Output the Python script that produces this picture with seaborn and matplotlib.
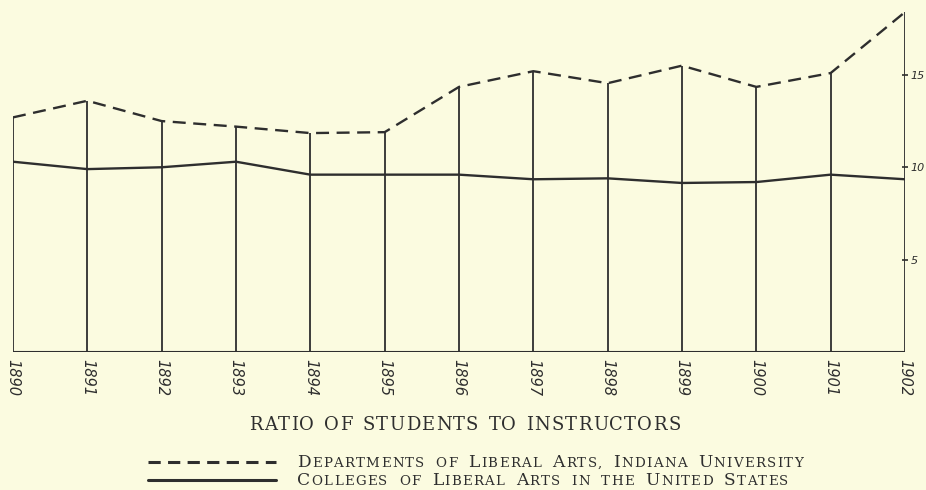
import pandas as pd
import seaborn as sns
import matplotlib.pyplot as plt

years = list(range(1890, 1903))
indiana = [12.7, 13.6, 12.5, 12.2, 11.85, 11.9, 14.35, 15.2, 14.55, 15.5, 14.35, 15.1, 18.4]
colleges = [10.3, 9.9, 10.0, 10.3, 9.6, 9.6, 9.6, 9.35, 9.4, 9.15, 9.2, 9.6, 9.35]
ytick_vals = [5, 10, 15]

df = pd.DataFrame({'year': years, 'indiana': indiana, 'colleges': colleges})

ink = '#2e2e2e'
paper = '#fbfbe0'

sns.set_theme(style='white', rc={'axes.facecolor': paper, 'figure.facecolor': paper})
plt.rcParams['font.family'] = ['DejaVu Serif']

fig = plt.figure(figsize=(9.26, 4.9), dpi=100)
ax = fig.add_axes([13 / 926, 138 / 490, 892 / 926, 351 / 490])
ax.set_facecolor(paper)

# vertical rules from the base up to the dashed line
ax.vlines(df['year'], 0, df['indiana'], color=ink, lw=1.3)
ax.hlines(0, 1890, 1902, color=ink, lw=1.5)

sns.lineplot(data=df, x='year', y='indiana', ax=ax, color=ink, lw=1.7,
             linestyle=(0, (5.5, 3.2)))
sns.lineplot(data=df, x='year', y='colleges', ax=ax, color=ink, lw=1.7)

ax.set_xlim(1890, 1902)
ax.set_ylim(0, 19)
for s in ax.spines.values():
    s.set_visible(False)

ax.set_xticks(years)
ax.set_xticklabels([str(y) for y in years], rotation=-90, fontsize=10.5,
                   style='italic', family='DejaVu Sans', color=ink)
ax.tick_params(axis='x', length=0, pad=5)

ax.yaxis.tick_right()
ax.set_yticks(ytick_vals)
ax.set_yticklabels([str(v) for v in ytick_vals], fontsize=8, style='italic',
                   family='DejaVu Sans', color=ink)
ax.tick_params(axis='y', right=True, direction='inout', length=4, width=1.2,
               color=ink, pad=2)
ax.set_xlabel('')
ax.set_ylabel('')

renderer = fig.canvas.get_renderer()
inv = fig.transFigure.inverted()


def spaced(x, y, pieces, track=1.5, word_gap=7):
    # pieces: list of (text, fontsize); letters drawn one by one with extra tracking
    x = x / 926
    for text, size in pieces:
        for ch in text:
            if ch == ' ':
                x += word_gap / 926
                continue
            t = fig.text(x, y, ch, fontsize=size, color=ink, va='baseline')
            bb = t.get_window_extent(renderer)
            x = inv.transform((bb.x1 + track, 0))[0]
    return x * 926


def small_caps(s, big=12.3, small=9.6):
    pieces = []
    for i, word in enumerate(s.split(' ')):
        if i:
            pieces.append((' ', small))
        if word[0].isupper():
            pieces.append((word[0], big))
            word = word[1:]
        if word:
            pieces.append((word.upper(), small))
    return pieces


title = 'RATIO OF STUDENTS TO INSTRUCTORS'
spaced(249, 1 - 430 / 490, [(title, 13)], track=1.2, word_gap=9)

# legend drawn by hand, as in the printed plate
fig.add_artist(plt.Line2D([148 / 926, 276 / 926], [1 - 462 / 490] * 2, color=ink,
                          lw=2.2, linestyle=(0, (4, 2.4))))
fig.add_artist(plt.Line2D([148 / 926, 276 / 926], [1 - 480 / 490] * 2, color=ink, lw=2.2))

spaced(297, 1 - 467 / 490, small_caps('Departments of Liberal Arts, Indiana University'),
       track=1.3, word_gap=10)
spaced(297, 1 - 485 / 490, small_caps('Colleges of Liberal Arts in the United States'),
       track=1.3, word_gap=10)

fig.savefig('out.png', dpi=100, facecolor=paper)
